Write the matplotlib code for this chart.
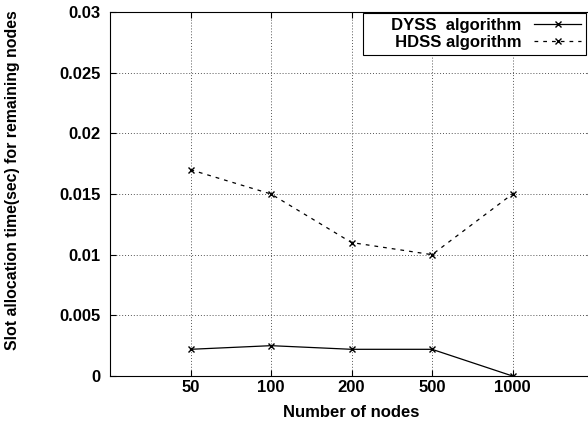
import matplotlib
matplotlib.use("Agg")
import matplotlib.pyplot as plt

# data
node_labels = ["50", "100", "200", "500", "1000"]
dyss_time = [0.0022, 0.0025, 0.0022, 0.0022, 0.0]
hdss_time = [0.017, 0.015, 0.011, 0.010, 0.015]
y_ticks = [0, 0.005, 0.01, 0.015, 0.02, 0.025, 0.03]
y_tick_labels = ["0", "0.005", "0.01", "0.015", "0.02", "0.025", "0.03"]

plt.rcParams['font.family'] = ['Liberation Sans', 'DejaVu Sans']
plt.rcParams['font.weight'] = 'bold'

fig = plt.figure(figsize=(5.88, 4.32), dpi=100)
ax = fig.add_axes([110 / 588, 1 - 376 / 432, 483 / 588, 364 / 432])

x = list(range(1, len(node_labels) + 1))
ax.plot(x, dyss_time, 'k-', marker='x', markersize=4, linewidth=0.9,
        label="     DYSS  algorithm")
ax.plot(x, hdss_time, 'k--', marker='x', markersize=4, linewidth=0.9,
        dashes=(3, 4), label="     HDSS algorithm")

ax.set_xlim(0, 6)
ax.set_ylim(0, 0.03)
ax.set_xticks(x)
ax.set_xticklabels(node_labels, fontsize=12, fontweight='bold')
ax.set_yticks(y_ticks)
ax.set_yticklabels(y_tick_labels, fontsize=12, fontweight='bold')
ax.tick_params(axis='y', direction='in', length=4, right=True, pad=7)
ax.tick_params(axis='x', direction='in', length=4, top=True, pad=3)
ax.grid(True, color='#555555', linestyle=(0, (1, 2)), linewidth=0.7)

ax.set_xlabel("Number of nodes", fontsize=12, fontweight='bold', labelpad=7)
ax.set_ylabel("Slot allocation time(sec) for remaining nodes", fontsize=11.4,
              fontweight='bold')
ax.yaxis.set_label_coords(-(110 - 20) / 483, (376 - 180) / 364)

leg = ax.legend(loc='upper right', bbox_to_anchor=(586 / 588, 1 - 13 / 432),
                bbox_transform=fig.transFigure,
                markerfirst=False, fancybox=False, framealpha=1,
                edgecolor='black', fontsize=12, handlelength=2.8,
                borderpad=0.3, labelspacing=0.1, handletextpad=0.8,
                borderaxespad=0)
leg.get_frame().set_linewidth(0.8)
for t in leg.get_texts():
    t.set_ha('right')
    t.set_fontweight('bold')
leg._legend_box.align = "right"

fig.savefig("out.png", dpi=100)
